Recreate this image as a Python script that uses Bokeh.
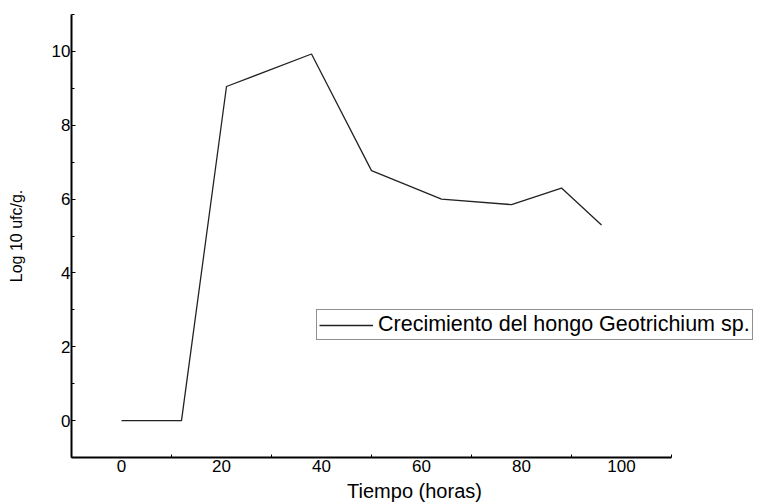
from bokeh.plotting import figure
from bokeh.models import ColumnDataSource, FixedTicker, Legend, LegendItem, Range1d
from bokeh.embed import file_html
from bokeh.resources import INLINE

# Data
tiempo_horas = [0, 12, 21, 38, 50, 64, 78, 88, 96]
log10_ufc = [0.0, 0.0, 9.05, 9.93, 6.77, 6.0, 5.85, 6.3, 5.3]

x_ticks = [0, 20, 40, 60, 80, 100]
x_minor = [-10, 10, 30, 50, 70, 90, 110]
y_ticks = [0, 2, 4, 6, 8, 10]
y_minor = [-1, 1, 3, 5, 7, 9, 11]

series_label = "Crecimiento del hongo Geotrichium sp."
x_title = "Tiempo (horas)"
y_title = "Log 10 ufc/g."

FONT = "Liberation Sans"

W, H = 758, 504
LEFT, RIGHT, TOP, BOTTOM = 71, 1, 14, 47
px_per_hour = 5.0
x_end = -10 + (W - LEFT - RIGHT) / px_per_hour

p = figure(width=W, height=H, output_backend="svg", toolbar_location=None,
           x_range=Range1d(-10, x_end), y_range=Range1d(-1, 11),
           min_border_left=LEFT, min_border_right=RIGHT, min_border_top=TOP,
           min_border_bottom=BOTTOM)
p.outline_line_color = None
p.background_fill_color = "white"
p.border_fill_color = "white"
p.xgrid.visible = False
p.ygrid.visible = False

src = ColumnDataSource(dict(x=tiempo_horas, y=log10_ufc))
r = p.line("x", "y", source=src, line_color="#222222", line_width=1.3)

for ax in (p.xaxis[0], p.yaxis[0]):
    ax.axis_line_color = "black"
    ax.axis_line_width = 2
    ax.major_tick_line_color = "black"
    ax.minor_tick_line_color = "black"
    ax.major_label_text_font = FONT
    ax.major_label_text_color = "black"
    ax.major_label_text_font_size = "17px"
    ax.axis_label_text_font = FONT
    ax.axis_label_text_font_style = "normal"
    ax.axis_label_text_color = "black"
    ax.major_tick_out = 0
    ax.minor_tick_out = 0

xa = p.xaxis[0]
xa.ticker = FixedTicker(ticks=x_ticks, minor_ticks=x_minor)
xa.bounds = (-10, 110)
xa.major_tick_in = 0
xa.minor_tick_in = 3
xa.major_label_standoff = 2
xa.axis_label = x_title
xa.axis_label_text_font_size = "20px"
xa.axis_label_standoff = 5

ya = p.yaxis[0]
ya.ticker = FixedTicker(ticks=y_ticks, minor_ticks=y_minor)
ya.major_tick_in = 4
ya.minor_tick_in = 3
ya.major_label_standoff = 1
ya.axis_label = y_title
ya.axis_label_text_font_size = "16px"
ya.axis_label_standoff = 24

legend = Legend(items=[LegendItem(label=series_label, renderers=[r])],
                location=(245, 117), orientation="vertical")
legend.label_text_font = FONT
legend.label_text_font_size = "21.5px"
legend.label_text_color = "black"
legend.border_line_color = "#222222"
legend.border_line_width = 1
legend.background_fill_alpha = 1
legend.padding = 2
legend.margin = 0
legend.spacing = 0
legend.label_standoff = 5
legend.glyph_width = 54
legend.glyph_height = 14
legend.label_height = 14
p.add_layout(legend)

open("out.html", "w").write(file_html(p, INLINE))
